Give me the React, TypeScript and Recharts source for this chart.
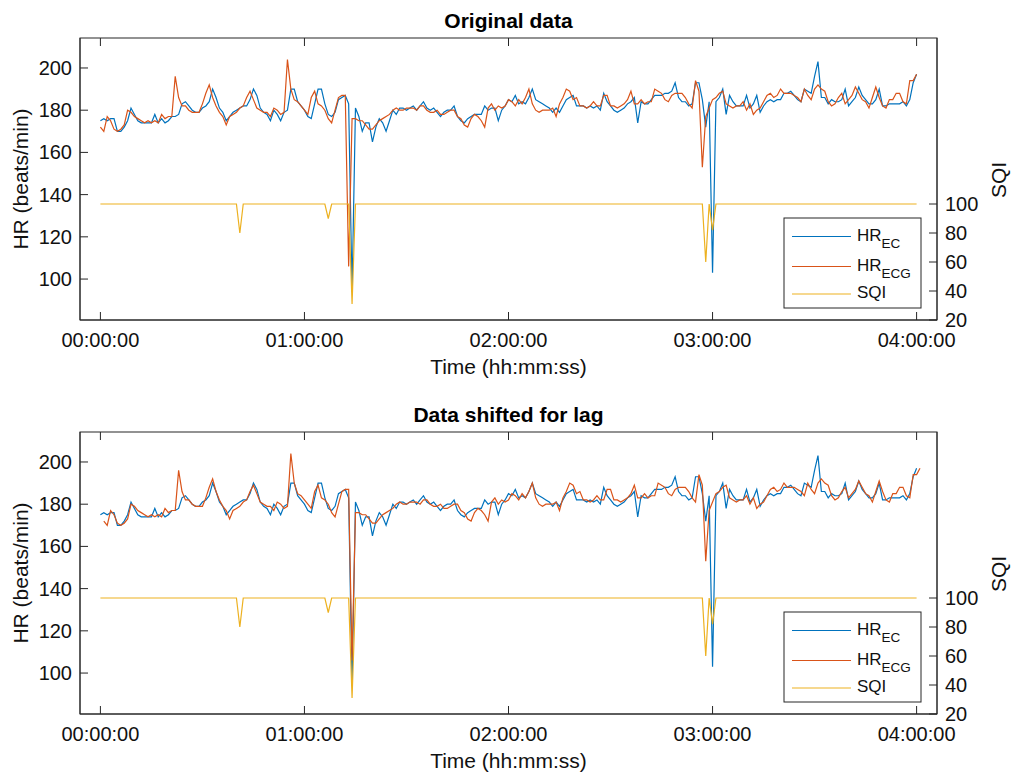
import React from "react";
import { LineChart, Line, XAxis, YAxis } from "recharts";

// one HR sample per minute, 0..240 min
const minutes = Array.from({ length: 241 }, (_, i) => i);

const hrEc = [
  175, 176, 175, 176, 176, 170, 170, 172, 175, 181,
  178, 175, 174, 174, 174, 174, 178, 174, 176, 174,
  175, 177, 177, 178, 183, 184, 182, 180, 179, 179,
  181, 182, 184, 190, 186, 181, 179, 175, 177, 179,
  180, 181, 182, 182, 185, 190, 187, 181, 179, 178,
  175, 180, 178, 175, 179, 180, 190, 190, 184, 182,
  180, 177, 176, 183, 190, 190, 183, 178, 177, 179,
  185, 186, 187, 183, 94, 181, 177, 170, 174, 174,
  165, 172, 176, 174, 170, 175, 180, 178, 181, 181,
  180, 181, 182, 180, 182, 184, 181, 180, 181, 179,
  177, 179, 180, 180, 182, 177, 175, 174, 176, 177,
  178, 178, 178, 182, 180, 181, 181, 175, 180, 182,
  185, 184, 187, 183, 184, 183, 186, 190, 185, 184,
  183, 182, 181, 179, 181, 179, 182, 185, 186, 187,
  182, 182, 182, 181, 182, 181, 182, 180, 188, 184,
  182, 180, 179, 180, 181, 183, 184, 186, 174, 184,
  183, 183, 185, 187, 187, 187, 188, 188, 189, 193,
  186, 184, 184, 182, 183, 193, 193, 185, 172, 184,
  103, 184, 186, 190, 178, 187, 184, 182, 182, 182,
  187, 181, 183, 187, 179, 182, 184, 185, 184, 185,
  185, 188, 188, 189, 187, 185, 184, 190, 189, 188,
  196, 203, 186, 186, 183, 185, 184, 184, 185, 190,
  182, 184, 186, 191, 187, 185, 183, 183, 185, 190,
  182, 182, 183, 183, 183, 183, 184, 182, 185, 193,
  197,
];

const hrEcg = [
  172, 170, 177, 175, 171, 170, 171, 173, 180, 179,
  177, 176, 175, 174, 175, 174, 175, 174, 178, 176,
  177, 177, 196, 186, 182, 182, 180, 179, 179, 179,
  183, 188, 192, 186, 182, 179, 177, 173, 177, 178,
  179, 181, 182, 186, 189, 185, 181, 180, 179, 179,
  177, 181, 180, 178, 179, 204, 190, 185, 184, 182,
  180, 178, 186, 189, 183, 182, 180, 176, 174, 180,
  186, 187, 187, 106, 176, 176, 175, 175, 173, 171,
  171, 173, 175, 176, 177, 178, 180, 181, 180, 180,
  181, 181, 181, 180, 182, 182, 180, 179, 179, 180,
  178, 178, 179, 180, 180, 177, 176, 173, 172, 176,
  178, 177, 175, 172, 181, 183, 180, 182, 181, 182,
  185, 184, 182, 185, 183, 186, 190, 183, 180, 179,
  180, 180, 180, 181, 177, 183, 186, 190, 189, 185,
  186, 182, 182, 181, 182, 184, 182, 182, 187, 187,
  182, 182, 181, 182, 183, 185, 189, 183, 183, 185,
  183, 184, 184, 190, 189, 188, 185, 184, 187, 188,
  188, 188, 186, 183, 181, 194, 189, 153, 177, 181,
  185, 186, 188, 189, 183, 182, 181, 182, 182, 184,
  180, 183, 178, 180, 181, 184, 187, 188, 186, 187,
  190, 188, 188, 188, 187, 186, 184, 190, 187, 185,
  190, 192, 190, 189, 184, 182, 183, 186, 188, 183,
  185, 187, 191, 188, 185, 184, 181, 186, 191, 186,
  182, 181, 185, 185, 188, 188, 184, 183, 194, 194,
  197,
];

// SQI only changes around a few events
const sqiTimes = [0, 40, 41, 42, 66, 67, 68, 73, 74, 75, 177, 178, 179, 180, 181, 240];
const sqiValues = [100, 100, 80, 100, 100, 90, 100, 100, 31, 100, 100, 60, 100, 82, 100, 100];

const LAG_MIN = 1; // ECG lag removed in the second panel

const xTicks = [0, 60, 120, 180, 240];
const hrTicks = [100, 120, 140, 160, 180, 200];
const sqiTicks = [20, 40, 60, 80, 100];

const BLUE = "#0072BD";
const ORANGE = "#D95319";
const YELLOW = "#EDB120";
const AXIS = "#262626";
const FONT = "'Liberation Sans', Arial, Helvetica, sans-serif";

const W = 1013;
const H = 394;
const BOX = { left: 80, right: 937, top: 38, bottom: 320 };

const pad = (n: number) => String(n).padStart(2, "0");
const fmtTime = (m: number) => `${pad(Math.floor(m / 60))}:${pad(m % 60)}:00`;

const ecRows = minutes.map((t, i) => ({ t, ec: hrEc[i] }));
const ecgRows = minutes.map((t, i) => ({ t, ecg: hrEcg[i] }));
const ecgShiftedRows = minutes.map((t, i) => ({ t: t + LAG_MIN, ecg: hrEcg[i] }));
const sqiRows = sqiTimes.map((t, i) => ({ t, sqi: sqiValues[i] }));

const series = [
  { key: "ec", base: "HR", sub: "EC", color: BLUE },
  { key: "ecg", base: "HR", sub: "ECG", color: ORANGE },
  { key: "sqi", base: "SQI", sub: "", color: YELLOW },
];

const BottomTick = (props: any) => {
  const { x, payload } = props;
  return (
    <g>
      <line x1={x} x2={x} y1={BOX.bottom} y2={BOX.bottom - 8} stroke={AXIS} />
      <line x1={x} x2={x} y1={BOX.top} y2={BOX.top + 8} stroke={AXIS} />
      <text x={x} y={347} textAnchor="middle" fontSize={20} fontFamily={FONT} fill="#111">
        {fmtTime(payload.value)}
      </text>
    </g>
  );
};

const LeftTick = (props: any) => {
  const { y, payload } = props;
  return (
    <g>
      <line x1={BOX.left} x2={BOX.left + 8} y1={y} y2={y} stroke={AXIS} />
      <text x={72} y={y + 7} textAnchor="end" fontSize={20} fontFamily={FONT} fill="#111">
        {payload.value}
      </text>
    </g>
  );
};

const RightTick = (props: any) => {
  const { y, payload } = props;
  return (
    <g>
      <line x1={BOX.right} x2={BOX.right - 8} y1={y} y2={y} stroke={AXIS} />
      <text x={945} y={y + 7} textAnchor="start" fontSize={20} fontFamily={FONT} fill="#111">
        {payload.value}
      </text>
    </g>
  );
};

const Panel = ({ title, ecgData }: { title: string; ecgData: { t: number; ecg: number }[] }) => (
  <div style={{ position: "relative", width: W, height: H }}>
    <LineChart width={W} height={H} data={ecRows} margin={{ top: BOX.top, right: 0, bottom: 0, left: 0 }}>
      <XAxis
        dataKey="t"
        type="number"
        domain={[-6, 246]}
        ticks={xTicks}
        interval={0}
        allowDataOverflow
        height={H - BOX.bottom}
        tickLine={false}
        tick={BottomTick}
        axisLine={{ stroke: AXIS }}
      />
      <YAxis
        yAxisId="hr"
        type="number"
        domain={[80.6, 214.2]}
        ticks={hrTicks}
        interval={0}
        allowDataOverflow
        width={BOX.left}
        tickLine={false}
        tick={LeftTick}
        axisLine={{ stroke: AXIS }}
      />
      <YAxis
        yAxisId="sqi"
        orientation="right"
        type="number"
        domain={[20, 214.5]}
        ticks={sqiTicks}
        interval={0}
        allowDataOverflow
        width={W - BOX.right}
        tickLine={false}
        tick={RightTick}
        axisLine={{ stroke: AXIS }}
      />
      <Line data={ecRows} yAxisId="hr" dataKey="ec" stroke={BLUE} strokeWidth={1.2} dot={false} isAnimationActive={false} />
      <Line data={ecgData} yAxisId="hr" dataKey="ecg" stroke={ORANGE} strokeWidth={1.2} dot={false} isAnimationActive={false} />
      <Line data={sqiRows} yAxisId="sqi" dataKey="sqi" stroke={YELLOW} strokeWidth={1.2} dot={false} isAnimationActive={false} />
    </LineChart>
    <svg
      width={W}
      height={H}
      style={{ position: "absolute", left: 0, top: 0, pointerEvents: "none" }}
      fontFamily={FONT}
    >
      {/* axes box */}
      <rect
        x={BOX.left}
        y={BOX.top}
        width={BOX.right - BOX.left}
        height={BOX.bottom - BOX.top}
        fill="none"
        stroke={AXIS}
        strokeWidth={1}
      />
      <text x={508.5} y={28} textAnchor="middle" fontSize={21} fontWeight="bold" fill="#000">
        {title}
      </text>
      <text x={508.5} y={374} textAnchor="middle" fontSize={21} fill="#111">
        Time (hh:mm:ss)
      </text>
      <text transform="translate(28,179) rotate(-90)" textAnchor="middle" fontSize={21} fill="#111">
        HR (beats/min)
      </text>
      <text transform="translate(1006,180) rotate(-90)" textAnchor="middle" fontSize={21} fill="#111">
        SQI
      </text>
      <rect x={784} y={218} width={137} height={90} fill="#fff" stroke={AXIS} strokeWidth={1} />
      {series.map((s, i) => {
        const ly = [236.5, 266.5, 294][i];
        return (
          <g key={s.key}>
            <line x1={792} x2={851} y1={ly} y2={ly} stroke={s.color} strokeWidth={1.2} />
            <text x={857} y={ly + 4} fontSize={17} fill="#111">
              {s.base}
              {s.sub && (
                <tspan fontSize={13.5} dy={7}>
                  {s.sub}
                </tspan>
              )}
            </text>
          </g>
        );
      })}
    </svg>
  </div>
);

export default function App() {
  return (
    <div style={{ position: "absolute", left: 0, top: 0, width: W, height: 774, background: "#fff" }}>
      <Panel title="Original data" ecgData={ecgRows} />
      <Panel title="Data shifted for lag" ecgData={ecgShiftedRows} />
    </div>
  );
}
